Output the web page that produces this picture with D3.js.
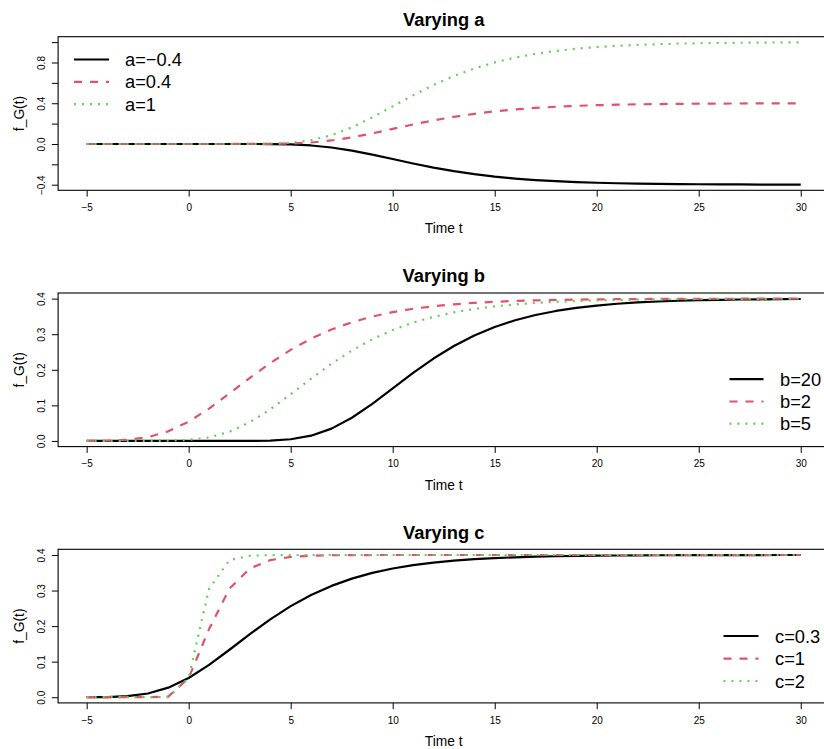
<!DOCTYPE html>
<html>
<head>
<meta charset="utf-8">
<script src="https://cdn.jsdelivr.net/npm/d3@7"></script>
<style>
  html, body { margin: 0; padding: 0; background: #ffffff; }
  svg { display: block; }
  text { font-family: "Liberation Sans", Arial, Helvetica, sans-serif; fill: #000; }
</style>
</head>
<body>
<svg id="chart" width="824" height="749"></svg>
<script>
// ---------------- data ----------------
const timeT = [-5,-4,-3,-2,-1,0,1,2,3,4,5,6,7,8,9,10,11,12,13,14,15,16,17,18,19,20,21,22,23,24,25,26,27,28,29,30];
const xTicks = [-5,0,5,10,15,20,25,30];

// Panel 1: varying a
const aNeg04 = [0,0,0,0,0,0,0,0,-0.0001,-0.0010,-0.0046,-0.0147,-0.0345,-0.0652,-0.1043,-0.1477,-0.1913,-0.2316,-0.2668,-0.2963,-0.3203,-0.3393,-0.3541,-0.3654,-0.3741,-0.3806,-0.3856,-0.3893,-0.3920,-0.3941,-0.3956,-0.3967,-0.3976,-0.3982,-0.3987,-0.3990];
const aPos04 = [0,0,0,0,0,0,0,0,0.0001,0.0010,0.0046,0.0147,0.0345,0.0652,0.1043,0.1477,0.1913,0.2316,0.2668,0.2963,0.3203,0.3393,0.3541,0.3654,0.3741,0.3806,0.3856,0.3893,0.3920,0.3941,0.3956,0.3967,0.3976,0.3982,0.3987,0.3990];
const aOne   = [0,0,0,0,0,0,0,0,0.0003,0.0024,0.0115,0.0367,0.0863,0.1630,0.2608,0.3693,0.4783,0.5790,0.6671,0.7408,0.8007,0.8482,0.8852,0.9136,0.9353,0.9516,0.9639,0.9732,0.9800,0.9852,0.9890,0.9918,0.9939,0.9955,0.9967,0.9975];
const aLabels = ["a=\u22120.4", "a=0.4", "a=1"];
const aYTicks = [-0.4,-0.2,0,0.2,0.4,0.6,0.8,1.0];
const aYLabels = [-0.4,0,0.4,0.8];

// Panel 2: varying b
const b20 = [0,0,0,0,0,0,0,0,0.0001,0.0010,0.0046,0.0147,0.0345,0.0652,0.1043,0.1477,0.1913,0.2316,0.2668,0.2963,0.3203,0.3393,0.3541,0.3654,0.3741,0.3806,0.3856,0.3893,0.3920,0.3941,0.3956,0.3967,0.3976,0.3982,0.3987,0.3990];
const b2  = [0.0001,0.0005,0.0029,0.0105,0.0269,0.0541,0.0909,0.1335,0.1774,0.2190,0.2561,0.2874,0.3131,0.3336,0.3497,0.3621,0.3716,0.3787,0.3841,0.3882,0.3912,0.3935,0.3952,0.3964,0.3973,0.3980,0.3985,0.3989,0.3992,0.3994,0.3996,0.3997,0.3998,0.3998,0.3999,0.3999];
const b5  = [0,0,0,0,0.0005,0.0027,0.0098,0.0257,0.0524,0.0887,0.1311,0.1750,0.2168,0.2542,0.2858,0.3118,0.3326,0.3489,0.3615,0.3711,0.3784,0.3839,0.3880,0.3911,0.3934,0.3951,0.3963,0.3973,0.3980,0.3985,0.3989,0.3992,0.3994,0.3996,0.3997,0.3998];
const bLabels = ["b=20", "b=2", "b=5"];

// Panel 3: varying c
const c03 = [0.0001,0.0005,0.0029,0.0105,0.0269,0.0541,0.0909,0.1335,0.1774,0.2190,0.2561,0.2874,0.3131,0.3336,0.3497,0.3621,0.3716,0.3787,0.3841,0.3882,0.3912,0.3935,0.3952,0.3964,0.3973,0.3980,0.3985,0.3989,0.3992,0.3994,0.3996,0.3997,0.3998,0.3998,0.3999,0.3999];
const c1  = [0,0,0,0,0.0017,0.0541,0.1917,0.3052,0.3621,0.3856,0.3946,0.3980,0.3993,0.3997,0.3999,0.4,0.4,0.4,0.4,0.4,0.4,0.4,0.4,0.4,0.4,0.4,0.4,0.4,0.4,0.4,0.4,0.4,0.4,0.4,0.4,0.4];
const c2  = [0,0,0,0,0,0.0541,0.3052,0.3856,0.3980,0.3997,0.4,0.4,0.4,0.4,0.4,0.4,0.4,0.4,0.4,0.4,0.4,0.4,0.4,0.4,0.4,0.4,0.4,0.4,0.4,0.4,0.4,0.4,0.4,0.4,0.4,0.4];
const cLabels = ["c=0.3", "c=1", "c=2"];
const bcYTicks = [0,0.1,0.2,0.3,0.4];

const titles = ["Varying a", "Varying b", "Varying c"];

// ---------------- styles ----------------
const seriesStyle = [
  { color: "#000000", dash: null },
  { color: "#DF536B", dash: "8,8" },
  { color: "#61D04F", dash: "2,6" }
];

const panels = [
  { title: titles[0], series: [aNeg04, aPos04, aOne], labels: aLabels, yTicks: aYTicks, yLabels: aYLabels,
    legend: { lineX0: 74, lineX1: 109, textX: 125, rows: [59.5, 81.8, 104.1] } },
  { title: titles[1], series: [b20, b2, b5], labels: bLabels, yTicks: bcYTicks, yLabels: bcYTicks,
    legend: { lineX0: 729.5, lineX1: 763.5, textX: 780, rows: [122.8, 145.2, 167.4] } },
  { title: titles[2], series: [c03, c1, c2], labels: cLabels, yTicks: bcYTicks, yLabels: bcYTicks,
    legend: { lineX0: 723.5, lineX1: 758.5, textX: 775, rows: [123.4, 146.0, 168.4] } }
];

// ---------------- layout ----------------
const svg = d3.select("#chart");
const W = 824;
const plotLeft = 58.1, plotRight = 829.3;
const firstTop = 36.7, plotH = 153.6, panelStep = 256.3;

const xDom = [-5, 30];
const xPad = (xDom[1] - xDom[0]) * 0.04;
const x = d3.scaleLinear().domain([xDom[0] - xPad, xDom[1] + xPad]).range([plotLeft, plotRight]);

const fmtY = d3.format(".1f");
const fmtX = d3.format("d");

panels.forEach((p, i) => {
  const top = firstTop + i * panelStep;
  const bottom = top + plotH;
  const g = svg.append("g");

  const allVals = p.series.flat();
  const ext = d3.extent(allVals);
  const yPad = (ext[1] - ext[0]) * 0.04;
  const y = d3.scaleLinear().domain([ext[0] - yPad, ext[1] + yPad]).range([bottom, top]);

  // series lines
  const line = d3.line().x((d, k) => x(timeT[k])).y(d => y(d));
  p.series.forEach((s, k) => {
    const st = seriesStyle[k];
    g.append("path")
      .datum(s)
      .attr("d", line)
      .attr("fill", "none")
      .attr("stroke", st.color)
      .attr("stroke-width", 2.2)
      .attr("stroke-linejoin", "round")
      .attr("stroke-dasharray", st.dash);
  });

  // box
  g.append("rect")
    .attr("x", plotLeft).attr("y", top)
    .attr("width", plotRight - plotLeft).attr("height", plotH)
    .attr("fill", "none").attr("stroke", "#000").attr("stroke-width", 1.1);

  // x axis
  const xAxis = d3.axisBottom(x).tickValues(xTicks).tickSize(6.3).tickSizeOuter(0).tickFormat(fmtX);
  const gx = g.append("g").attr("transform", `translate(0,${bottom})`).call(xAxis);
  gx.select(".domain").remove();
  gx.selectAll(".tick line").attr("stroke", "#000").attr("stroke-width", 1);
  gx.selectAll(".tick text")
    .attr("y", 20.8).attr("dy", null)
    .style("font-size", "10px")
    .style("font-family", "'Liberation Sans', Arial, sans-serif");

  // y axis
  const yAxis = d3.axisLeft(y).tickValues(p.yTicks).tickSize(6.3).tickSizeOuter(0)
    .tickFormat(v => p.yLabels.some(l => Math.abs(l - v) < 1e-9) ? fmtY(v) : "");
  const gy = g.append("g").attr("transform", `translate(${plotLeft},0)`).call(yAxis);
  gy.select(".domain").remove();
  gy.selectAll(".tick line").attr("stroke", "#000").attr("stroke-width", 1);
  gy.selectAll(".tick text")
    .attr("x", null).attr("dy", null)
    .attr("text-anchor", "middle")
    .attr("transform", "translate(-12.8,0) rotate(-90)")
    .style("font-size", "10px")
    .style("font-family", "'Liberation Sans', Arial, sans-serif");

  // title
  g.append("text")
    .attr("x", (plotLeft + plotRight) / 2)
    .attr("y", 26 + i * panelStep)
    .attr("text-anchor", "middle")
    .style("font-size", "18.3px")
    .style("font-weight", "bold")
    .text(p.title);

  // x label
  g.append("text")
    .attr("x", (plotLeft + plotRight) / 2)
    .attr("y", 233.3 + i * panelStep)
    .attr("text-anchor", "middle")
    .style("font-size", "13.8px")
    .text("Time t");

  // y label
  g.append("text")
    .attr("transform", `translate(23.5,${(top + bottom) / 2}) rotate(-90)`)
    .attr("text-anchor", "middle")
    .style("font-size", "13.8px")
    .text("f_G(t)");

  // legend
  const lg = p.legend;
  p.labels.forEach((lab, k) => {
    const st = seriesStyle[k];
    const ry = (i === 0 ? lg.rows[k] : top + lg.rows[k] - 36.7);
    g.append("line")
      .attr("x1", lg.lineX0).attr("x2", lg.lineX1)
      .attr("y1", ry).attr("y2", ry)
      .attr("stroke", st.color).attr("stroke-width", 2.2)
      .attr("stroke-dasharray", st.dash);
    g.append("text")
      .attr("x", lg.textX).attr("y", ry + 6.6)
      .style("font-size", "18.3px")
      .text(lab);
  });
});
</script>
</body>
</html>
